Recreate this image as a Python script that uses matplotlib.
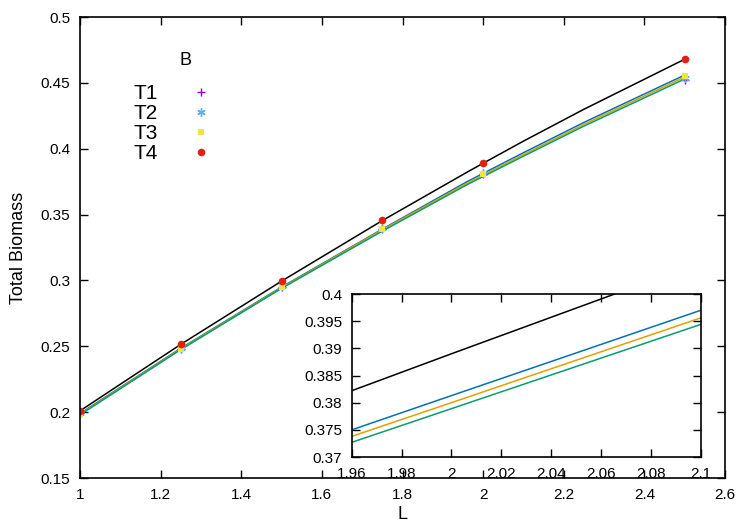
import matplotlib.pyplot as plt
import numpy as np

plt.rcParams['font.family'] = ['Liberation Sans', 'DejaVu Sans']

# sampled points
L_pts = [1.0, 1.25, 1.5, 1.75, 2.0, 2.5]
T1 = [0.199, 0.248, 0.295, 0.339, 0.381, 0.452]
T2 = [0.199, 0.2485, 0.2955, 0.3395, 0.3815, 0.4535]
T3 = [0.1985, 0.248, 0.295, 0.339, 0.381, 0.455]
T4 = [0.201, 0.2515, 0.2995, 0.346, 0.389, 0.468]

# curves
L_line = [1.0, 1.25, 1.5, 1.75, 1.96, 2.0, 2.1, 2.25, 2.5]
black_line = [0.201, 0.2515, 0.2995, 0.3455, 0.3822, 0.389, 0.4058, 0.430, 0.468]
blue_line = [0.199, 0.2485, 0.295, 0.339, 0.375, 0.3813, 0.397, 0.420, 0.456]
orange_line = [0.1985, 0.248, 0.2945, 0.3385, 0.3738, 0.380, 0.3956, 0.4185, 0.4545]
green_line = [0.198, 0.2475, 0.294, 0.3375, 0.3727, 0.3789, 0.3944, 0.4172, 0.453]

lines = [(black_line, 'black'), (blue_line, '#0072b2'),
         (orange_line, '#e69f00'), (green_line, '#009e73')]

fig = plt.figure(figsize=(7.5, 5.25), dpi=100)
ax = fig.add_axes([0.1067, 0.0895, 0.86, 0.878])

for ys, c in lines:
    ax.plot(L_line, ys, color=c, lw=1.1)

h1, = ax.plot(L_pts, T1, '+', color='#9400d3', ms=5.5, mew=1)
h2, = ax.plot(L_pts, T2, marker=(6, 2, 0), ls='none', color='#56b4e9', ms=6, mew=1)
h3, = ax.plot(L_pts, T3, 's', color='#f0e442', ms=4.5, mew=0)
h4, = ax.plot(L_pts, T4, 'o', color='#e51e10', ms=5.5, mew=0)

ax.set_xlim(1, 2.6)
ax.set_ylim(0.15, 0.5)
ax.set_xticks(np.arange(1, 2.61, 0.2))
ax.set_xticklabels(['1', '1.2', '1.4', '1.6', '1.8', '2', '2.2', '2.4', '2.6'])
ax.set_yticks(np.arange(0.15, 0.501, 0.05))
ax.set_yticklabels(['0.15', '0.2', '0.25', '0.3', '0.35', '0.4', '0.45', '0.5'])
ax.tick_params(direction='in', top=True, right=True, labelsize=11, length=6, width=1, pad=7)
for s in ax.spines.values():
    s.set_linewidth(1.2)
ax.set_xlabel('L', fontsize=13, labelpad=3)
ax.set_ylabel('Total Biomass', fontsize=13, labelpad=10)

ax.text(0.163, 0.905, 'B', transform=ax.transAxes, fontsize=13, ha='center', va='center')
leg = ax.legend([h1, h2, h3, h4], ['T1', 'T2', 'T3', 'T4'],
                loc='upper left', bbox_to_anchor=(0.083, 0.855), frameon=False,
                markerfirst=False, fontsize=15, borderpad=0, borderaxespad=0,
                handletextpad=1.3, labelspacing=0.05, handlelength=1.5)

ins = fig.add_axes([0.469, 0.1295, 0.4653, 0.3105])
for ys, c in lines:
    ins.plot(L_line, ys, color=c, lw=1.1)
ins.set_xlim(1.96, 2.1)
ins.set_ylim(0.37, 0.4)
ins.set_xticks(np.arange(1.96, 2.101, 0.02))
ins.set_xticklabels(['1.96', '1.98', '2', '2.02', '2.04', '2.06', '2.08', '2.1'])
ins.set_yticks(np.arange(0.37, 0.4001, 0.005))
ins.set_yticklabels(['0.37', '0.375', '0.38', '0.385', '0.39', '0.395', '0.4'])
ins.tick_params(direction='in', top=True, right=True, labelsize=11, length=6, width=1, pad=7)
for s in ins.spines.values():
    s.set_linewidth(1.2)

fig.savefig('out.png', dpi=100)
